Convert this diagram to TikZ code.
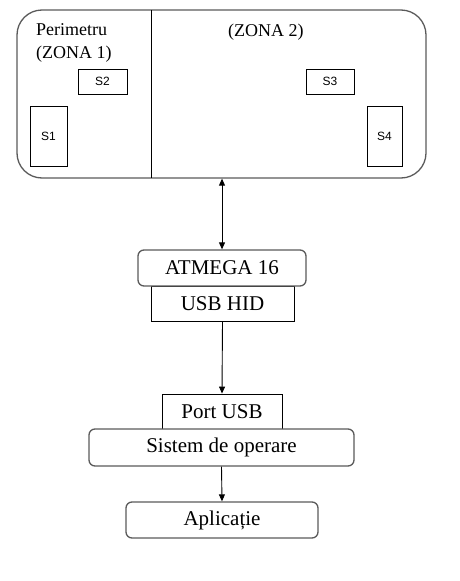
\documentclass[tikz,border=0pt]{standalone}
\usepackage{fontspec}
\setmainfont{Liberation Serif}
\newfontfamily\arialf{Liberation Sans}
\usetikzlibrary{arrows.meta}
\definecolor{edgegray}{HTML}{5A5A5A}
\tikzset{
  rbox/.style={draw=edgegray, line width=1.3pt, rounded corners=6pt, inner sep=0pt, font=\fontsize{21}{24}\selectfont},
  sqbox/.style={draw=black, line width=0.9pt, inner sep=0pt, font=\fontsize{21}{24}\selectfont},
  sensor/.style={draw=black, line width=0.8pt, inner sep=0pt, font=\arialf\fontsize{12}{14}\selectfont},
  zonelbl/.style={inner sep=0pt, font=\fontsize{18}{23}\selectfont, align=left},
  conn/.style={line width=0.9pt, arrows={-Triangle[length=7pt,width=6pt]}},
  conn2/.style={line width=0.9pt, arrows={Triangle[length=7pt,width=6pt]-Triangle[length=7pt,width=6pt]}}
}
\begin{document}
\begin{tikzpicture}[x=1pt,y=-1pt]
\useasboundingbox (0,0) rectangle (459,581);
% zones
\node[draw=edgegray, line width=1.3pt, rounded corners=25pt, minimum width=409pt, minimum height=168pt, inner sep=0pt] (zone) at (221.5,94) {};
\coordinate (divtop) at (151,10);
\coordinate (divbot) at (151,178);
\draw[line width=0.9pt] (divtop) -- (divbot);
\node[zonelbl, anchor=north west] (z1) at (36,23) {Perimetru\\(ZONA 1)};
\node[zonelbl, anchor=north west] (z2) at (228,24) {(ZONA 2)};
% sensors
\node[sensor, minimum width=49pt, minimum height=25pt] (s2) at (102.5,81.5) {S2};
\node[sensor, minimum width=37pt, minimum height=60pt] (s1) at (48.5,136) {S1};
\node[sensor, minimum width=48pt, minimum height=25pt] (s3) at (330,81.5) {S3};
\node[sensor, minimum width=35pt, minimum height=60pt] (s4) at (384.5,136) {S4};
% microcontroller
\node[sqbox, minimum width=143pt, minimum height=35pt] (usb) at (222.5,303.5) {USB HID};
\node[rbox, fill=white, minimum width=168pt, minimum height=36pt] (atm) at (222,268) {ATMEGA 16};
% PC side
\node[sqbox, minimum width=120pt, minimum height=35pt] (port) at (222,411.5) {Port USB};
\node[rbox, fill=white, minimum width=265pt, minimum height=37pt] (os) at (221.5,447.5) {Sistem de operare};
\node[rbox, minimum width=192pt, minimum height=36pt] (app) at (222,520) {Aplicație};
% connectors
\draw[conn2] (atm.north |- zone.south) -- (atm.north);
\draw[conn] (usb.south) -- (port.north);
\draw[conn] (os.south) -- (app.north);
\end{tikzpicture}
\end{document}
